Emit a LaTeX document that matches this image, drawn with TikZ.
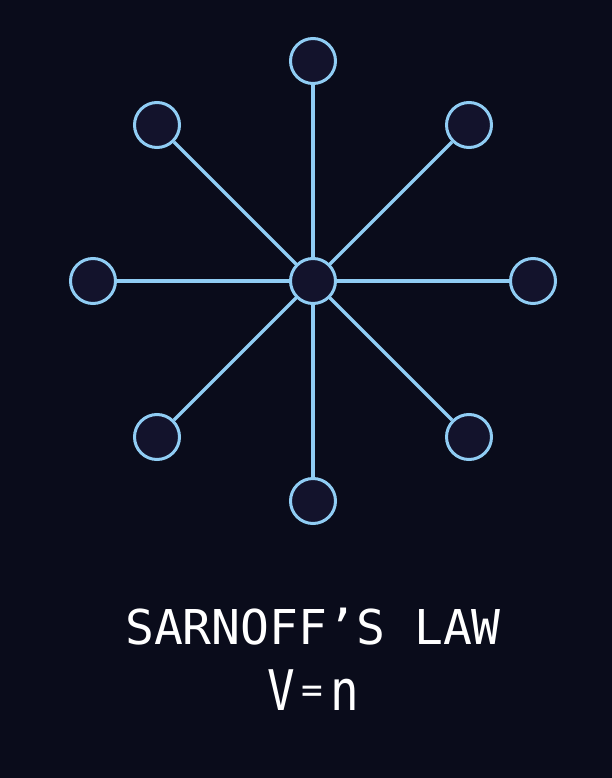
\documentclass[tikz,border=0pt]{standalone}
\usepackage{fontspec}
\setmonofont{DejaVu Sans Mono}
\definecolor{bg}{HTML}{0A0C1B}
\definecolor{edge}{HTML}{90CDF4}
\definecolor{nodefill}{HTML}{13132C}
\begin{document}
\begin{tikzpicture}[x=1pt,y=-1pt,
  dot/.style={circle,draw=edge,fill=nodefill,line width=3pt,minimum size=45pt,inner sep=0pt},
  link/.style={draw=edge,line width=3.2pt},
  title/.style={text=white,font=\fontsize{48}{48}\selectfont\ttfamily,anchor=base},
  formula/.style={text=white,font=\fontsize{56}{56}\selectfont\ttfamily,anchor=base}]
\fill[bg] (0,0) rectangle (612,778);
\useasboundingbox (0,0) rectangle (612,778);
\coordinate (c0) at (313,281);
\node[dot] (n1) at (313,61) {};
\node[dot] (n2) at (469,125) {};
\node[dot] (n3) at (533,281) {};
\node[dot] (n4) at (469,437) {};
\node[dot] (n5) at (313,501) {};
\node[dot] (n6) at (157,437) {};
\node[dot] (n7) at (93,281) {};
\node[dot] (n8) at (157,125) {};
\foreach \i in {1,...,8} {\draw[link] (c0) -- (n\i);}
\node[dot] (hub) at (c0) {};
\node[title] (t1) at (313,644) {SARNOFF’S LAW};
\node[formula] (t2) at (313,710) {\scalebox{0.82}[1]{V}\hspace{7pt}\raisebox{8pt}{\fontsize{36}{36}\selectfont=}\hspace{7pt}\scalebox{0.85}[1]{n}};
\end{tikzpicture}
\end{document}
